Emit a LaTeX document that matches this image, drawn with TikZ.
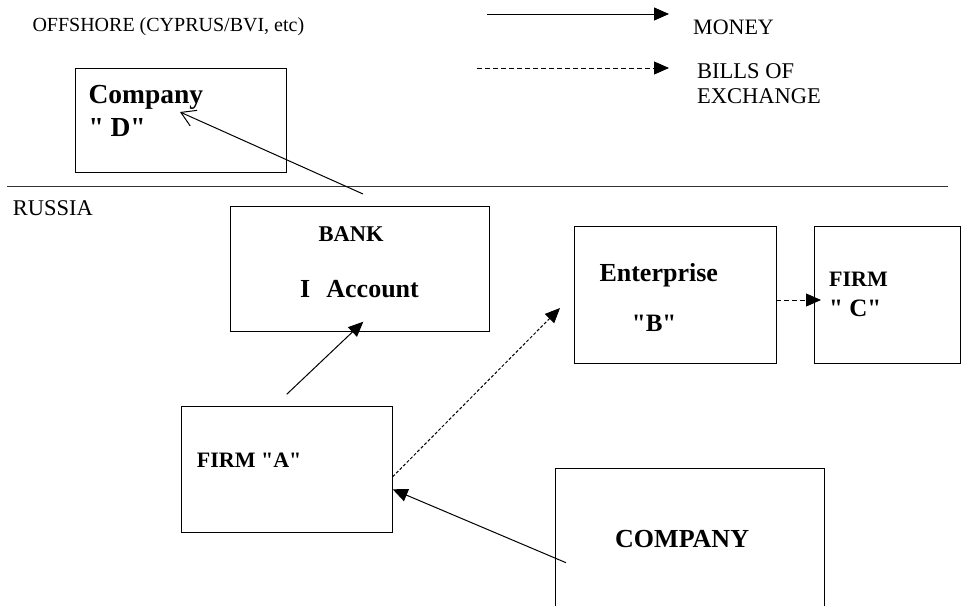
\documentclass[tikz,border=0pt]{standalone}
\usepackage{fontspec}
\setmainfont{Liberation Serif}
\usetikzlibrary{arrows.meta}
\newcommand{\qmark}{\textquotedbl}
\begin{document}
\begin{tikzpicture}[x=1pt,y=-1pt,
  box/.style={draw, line width=1pt, rectangle, inner sep=0pt, outer sep=0pt, anchor=north west},
  lbl/.style={inner sep=0pt, anchor=base west},
  money/.style={line width=1pt, -{Triangle[length=15pt,width=13pt]}},
  bills/.style={line width=1pt, dash pattern=on 5pt off 3pt, -{Triangle[length=15pt,width=13pt]}},
  billsfine/.style={line width=1pt, dash pattern=on 3pt off 2pt, -{Triangle[length=15pt,width=13pt]}},
  openarrow/.style={line width=1pt, -{Straight Barb[length=14pt,width=17pt,line width=1pt]}},
  fsz/.style={font=\fontsize{#1}{#1}\selectfont},
  bsz/.style={font=\fontsize{#1}{#1}\selectfont\bfseries}]
\useasboundingbox (0,0) rectangle (963,605);

% boundary line
\draw[line width=1pt, black!80] (7,186) -- (948,186);

% boxes
\node[box, minimum width=211.7pt, minimum height=104.4pt] (D) at (75,68.3) {};
\node[box, minimum width=259pt, minimum height=125pt] (bank) at (230,206.7) {};
\node[box, minimum width=202pt, minimum height=137pt] (ent) at (574,226) {};
\node[box, minimum width=145.7pt, minimum height=137pt] (firmC) at (814.3,226) {};
\node[box, minimum width=211pt, minimum height=126pt] (firmA) at (181.7,406.7) {};
\draw[line width=1pt] (555,606) -- (555,468.3) -- (824,468.3) -- (824,606);

% plain labels
\node[lbl, fsz=20] (offshore) at (32.3,31.5) {OFFSHORE (CYPRUS/BVI, etc)};
\node[lbl, fsz=22.5] (russia) at (12.7,215) {RUSSIA};
\node[lbl, fsz=22] (moneylbl) at (693,34.3) {MONEY};
\node[lbl, fsz=22.5] (billslbl) at (697,78) {BILLS OF};
\node[lbl, fsz=22.5] (exchlbl) at (697,103) {EXCHANGE};

% box labels
\node[lbl, bsz=27.5] (Dt1) at (88.3,103.3) {Company};
\node[lbl, bsz=27.5] (Dt2) at (88.3,136.7) {\qmark{} D\qmark};
\node[lbl, bsz=22.5] (bankt1) at (318.3,241.7) {BANK};
\node[lbl, bsz=26] (bankt2) at (300,297.3) {I\hspace{0.62em}Account};
\node[lbl, bsz=26] (entt1) at (599.3,281.7) {Enterprise};
\node[lbl, bsz=25] (entt2) at (631.7,331) {\qmark B\qmark};
\node[lbl, bsz=22] (firmCt1) at (829,286.7) {FIRM};
\node[lbl, bsz=25] (firmCt2) at (829,316.7) {\qmark{} C\qmark};
\node[lbl, bsz=22] (firmAt) at (196.7,467.3) {FIRM \qmark A\qmark};
\node[lbl, bsz=26] (companyt) at (615,547.3) {COMPANY};

% connector end points
\coordinate (legM1) at (487,14);
\coordinate (legM2) at (669,14);
\coordinate (legB1) at (477,68);
\coordinate (legB2) at (669,68);
\coordinate (aOut) at (286.7,394.3);
\coordinate (bankIn) at (363.3,321.7);
\coordinate (bankOut) at (363,194);
\coordinate (dIn) at (180,112);
\coordinate (aBills) at (392.7,476.7);
\coordinate (entIn) at (560,308);
\coordinate (compOut) at (566,562.7);
\coordinate (aIn) at (392.7,489.3);
\coordinate (entOut) at (776,300);
\coordinate (cIn) at (821,300);

% legend arrows
\draw[money] (legM1) -- (legM2);
\draw[bills] (legB1) -- (legB2);

% flows
\draw[money] (aOut) -- (bankIn);
\draw[openarrow] (bankOut) -- (dIn);
\draw[billsfine] (aBills) -- (entIn);
\draw[money] (compOut) -- (aIn);
\draw[bills] (entOut) -- (cIn);
\end{tikzpicture}
\end{document}
